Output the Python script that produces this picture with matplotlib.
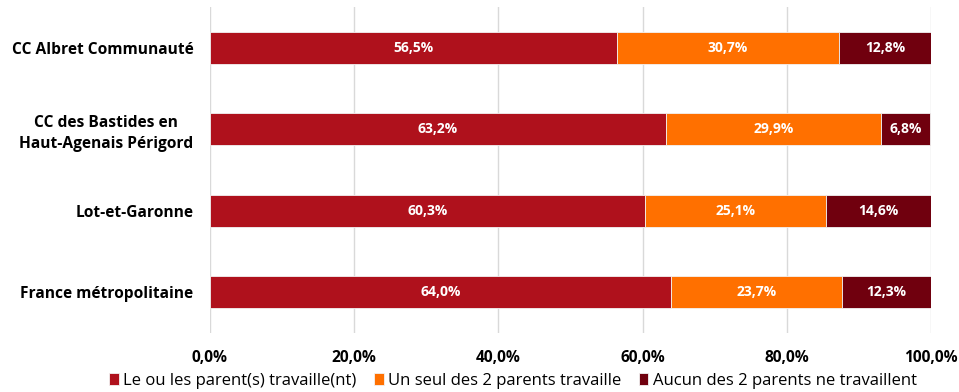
import matplotlib
matplotlib.use("Agg")
import matplotlib.pyplot as plt
import numpy as np

categories = ["CC Albret Communauté", "CC des Bastides en\nHaut-Agenais Périgord",
              "Lot-et-Garonne", "France métropolitaine"]
series_names = ["Le ou les parent(s) travaille(nt)", "Un seul des 2 parents travaille",
                "Aucun des 2 parents ne travaillent"]
both = [56.5, 63.2, 60.3, 64.0]
one = [30.7, 29.9, 25.1, 23.7]
none = [12.8, 6.8, 14.6, 12.3]
xticks = [0, 20, 40, 60, 80, 100]
colors = ["#AF111C", "#FF7000", "#70000E"]

plt.rcParams['font.family'] = ['Open Sans', 'DejaVu Sans']

fig = plt.figure(figsize=(9.59, 3.92), dpi=100)
ax = fig.add_axes([210/959, 1-333/392, 721/959, 326/392])

y = np.arange(len(categories))
left = np.zeros(len(categories))
for vals, col, name in zip([both, one, none], colors, series_names):
    vals = np.array(vals)
    ax.barh(y, vals, left=left, height=0.39, color=col, label=name,
            edgecolor="#F2F2F2", linewidth=0.6, zorder=3)
    for yi, l, v in zip(y, left, vals):
        ax.text(l + v/2, yi, f"{v:.1f}%".replace(".", ","), ha="center", va="center",
                color="white", fontsize=10, fontweight="bold", zorder=4)
    left += vals

ax.set_xlim(0, 100)
ax.set_ylim(3.5, -0.5)
ax.set_xticks(xticks)
ax.set_xticklabels([f"{t:.1f}%".replace(".", ",") for t in xticks], fontsize=11.2, fontweight="bold")
ax.set_yticks(y)
ax.set_yticklabels(categories, fontsize=11.2, fontweight="bold", linespacing=1.4,
                   multialignment="center")
ax.tick_params(axis="x", length=0, pad=12)
ax.tick_params(axis="y", length=0, pad=12)
ax.xaxis.grid(True, color="#D9D9D9", linewidth=1, zorder=0)
for s in ax.spines.values():
    s.set_visible(False)

fig.legend(loc="lower center", bbox_to_anchor=(0.535, -0.03), ncol=3, frameon=False,
           fontsize=12, handlelength=0.55, handleheight=0.8, handletextpad=0.25,
           columnspacing=1.1)

fig.savefig("out.png", dpi=100)
